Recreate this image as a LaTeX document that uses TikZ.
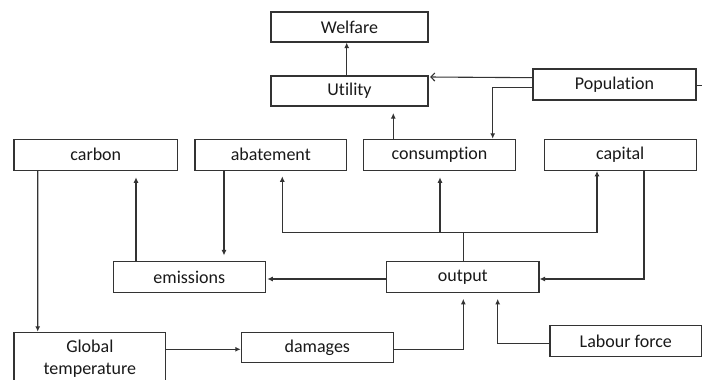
\documentclass[tikz,border=0pt]{standalone}
\usepackage{fontspec}
\setmainfont{Carlito}[Ligatures={NoCommon}]
\usetikzlibrary{arrows.meta}
\begin{document}
\begin{tikzpicture}[x=1pt,y=-1pt,
  box/.style={draw=black!80, line width=1.1pt, fill=white, inner sep=0pt, minimum height=31pt,
    font=\fontsize{18}{22.3}\selectfont, text=black!90},
  arr/.style={draw=black!80, line width=1.1pt, -{Latex[length=5.5pt,width=5pt]}},
  ln/.style={draw=black!80, line width=1.1pt},
  openarr/.style={draw=black!80, line width=1.1pt, -{Straight Barb[length=4pt,width=8pt]}}]
\useasboundingbox (0,0) rectangle (702,380);
% nodes
\node[box, minimum width=157pt, minimum height=30pt] (Welfare) at (349.5,27) {Welfare};
\node[box, minimum width=157pt, minimum height=30pt] (Utility) at (349.5,91) {Utility};
\node[box, minimum width=163pt] (Population) at (614.5,84.5) {Population};
\node[box, minimum width=163.7pt] (carbon) at (95.8,154.8) {carbon};
\node[box, minimum width=151.7pt] (abatement) at (270.8,154.8) {abatement};
\node[box, minimum width=152.4pt] (consumption) at (439.5,154.8) {consumption};
\node[box, minimum width=151.7pt] (capital) at (620.2,154.8) {capital};
\node[box, minimum width=151.5pt] (emissions) at (189.3,277.2) {emissions};
\node[box, minimum width=152.3pt] (output) at (462.8,277.2) {output};
\node[box, minimum width=151.7pt, minimum height=53.4pt, align=center] (Global) at (89.85,359) {Global\\temperature};
\node[box, minimum width=152pt, minimum height=30pt] (damages) at (317.3,347.3) {damages};
\node[box, minimum width=151.7pt, minimum height=30.6pt] (Labour) at (625.8,341) {Labour force};
% connectors
\draw[arr] ([xshift=-2.8pt]Utility.north) -- ([xshift=-2.8pt]Welfare.south);
\draw[openarr, shorten >=1.5pt] ([yshift=6.8pt]Population.west) -- ([yshift=14pt]Utility.east);
\draw[arr] ([yshift=-2.8pt]Population.west) -| ([xshift=53.2pt]consumption.north);
\draw[arr, shorten >=6.5pt] ([xshift=-46.2pt]consumption.north) -- ([xshift=43.8pt]Utility.south);
\draw[arr] ([xshift=-58.1pt]carbon.south) -- ([xshift=-52.15pt]Global.north);
\draw[arr, shorten >=6.4pt] ([xshift=-53.3pt]emissions.north) -- ([xshift=40.2pt]carbon.south);
\draw[arr, shorten >=5.7pt] ([xshift=-46.8pt]abatement.south) -- ([xshift=34.7pt]emissions.north);
\coordinate (J) at (463.3,232.7);
\draw[ln] ([xshift=0.5pt]output.north) -- (J);
\draw[arr, shorten >=5.4pt] (J) -| ([xshift=11.5pt]abatement.south);
\draw[arr] (J) -| ([xshift=-23.2pt]capital.south);
\draw[arr, shorten >=6.4pt] ([xshift=0.5pt]consumption.south |- J) -- ([xshift=0.5pt]consumption.south);
\draw[arr] ([xshift=23.8pt]capital.south) |- ([yshift=-1.8pt]output.east);
\draw[arr, shorten >=1.7pt] ([yshift=-1.8pt]output.west) -- ([yshift=-1.8pt]emissions.east);
\coordinate (gd) at ([yshift=-2pt]damages.west);
\draw[arr] (gd -| Global.east) -- (gd);
\draw[arr, shorten >=5.6pt] ([yshift=-2pt]damages.east) -| ([xshift=0.5pt]output.south);
\draw[arr, shorten >=5.6pt] ([yshift=-2.3pt]Labour.west) -| ([xshift=34.9pt]output.south);
\coordinate (popout) at (706,85.7);
\draw[ln] (Population.east |- popout) -- (popout);
\end{tikzpicture}
\end{document}
